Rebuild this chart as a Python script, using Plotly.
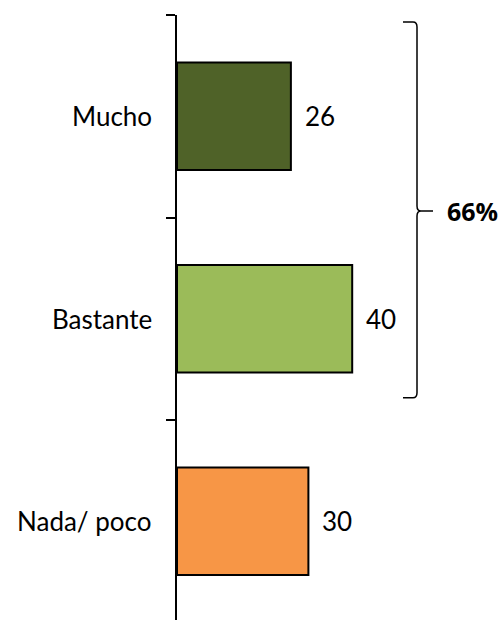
import plotly.graph_objects as go

categories = ["Mucho", "Bastante", "Nada/ poco"]
values = [26, 40, 30]
colors = ["#4F6228", "#9BBB59", "#F79646"]
bracket_total = values[0] + values[1]

FONT = "Lato"
W, H = 502, 620
L, T = 177, 15
px_per_unit = 4.38
band_px = 202.5
xmax = (W - L) / px_per_unit
ymax = -0.5 + (H - T) / band_px

ypos = list(range(len(categories)))

fig = go.Figure()
fig.add_trace(go.Bar(
    x=values, y=ypos, orientation="h",
    marker=dict(color=colors, line=dict(color="black", width=2)),
    width=0.53, hoverinfo="skip",
))

for i, (c, v) in enumerate(zip(categories, values)):
    fig.add_annotation(x=0, y=i, text=c, showarrow=False, xanchor="right",
                       xshift=-23, font=dict(family=FONT, size=26, color="black"))
    fig.add_annotation(x=v, y=i, text=str(v), showarrow=False, xanchor="left",
                       xshift=12, font=dict(family=FONT, size=26, color="black"))

# brace spanning first two categories
rx = 4 / px_per_unit
ry = 5 / band_px
xl = (403 - L) / px_per_unit
xm = (417 - L) / px_per_unit
xt = (433 - L) / px_per_unit
yt = -0.5 + 0.035
yb = 1.5 - 0.11
ytip = (yt + yb) / 2 + 0.005
path = (f"M {xl},{yt} L {xm - rx},{yt} Q {xm},{yt} {xm},{yt + ry} "
        f"L {xm},{ytip - ry} Q {xm},{ytip} {xm + rx},{ytip} L {xt},{ytip} "
        f"M {xm + rx},{ytip} Q {xm},{ytip} {xm},{ytip + ry} "
        f"L {xm},{yb - ry} Q {xm},{yb} {xm - rx},{yb} L {xl},{yb}")
fig.add_shape(type="path", path=path, xref="x", yref="y",
              line=dict(color="black", width=1.5))
fig.add_annotation(x=(445 - L) / px_per_unit, y=ytip, text=f"{bracket_total}%",
                   showarrow=False, xanchor="left",
                   font=dict(family="Open Sans", size=25, color="black", weight=700))

fig.update_layout(
    width=W, height=H,
    margin=dict(l=L, r=0, t=T, b=0),
    plot_bgcolor="white", paper_bgcolor="white",
    showlegend=False,
    xaxis=dict(range=[0, xmax], visible=False, fixedrange=True),
    yaxis=dict(range=[ymax, -0.5], showgrid=False, zeroline=False,
               showline=True, linecolor="black", linewidth=2,
               tickmode="array", tickvals=[-0.5, 0.5, 1.5, 2.5],
               ticktext=["", "", "", ""], ticks="outside", ticklen=9,
               tickwidth=2, tickcolor="black", automargin=False,
               fixedrange=True),
)
fig.write_html("out.html", config={"displayModeBar": False})

with open("out.html", "r", encoding="utf-8") as f:
    html = f.read()
html = html.replace("<head>", "<head><style>html,body{margin:0;padding:0;overflow:hidden}</style>", 1)
with open("out.html", "w", encoding="utf-8") as f:
    f.write(html)
